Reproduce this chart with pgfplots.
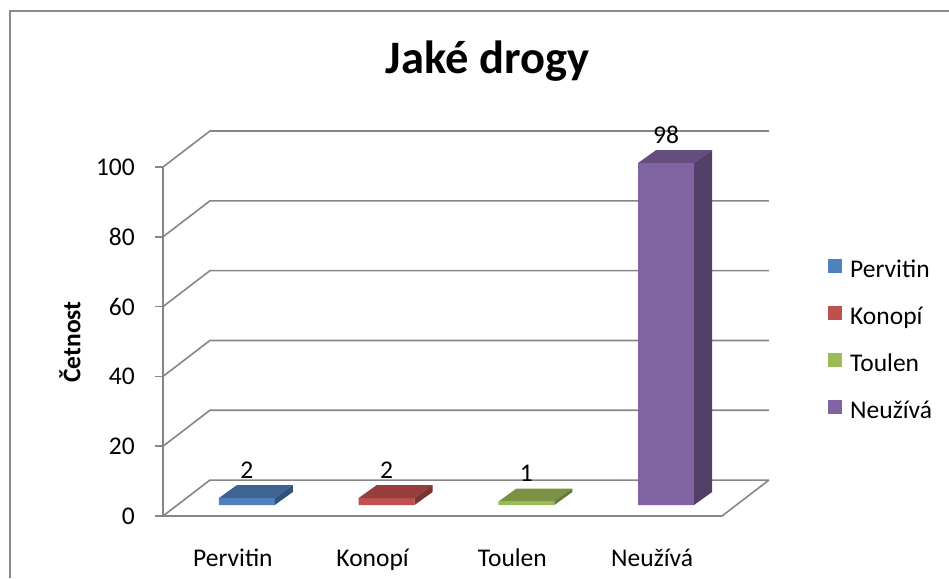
\documentclass[border=0pt]{standalone}
\usepackage{pgfplots}
\pgfplotsset{compat=1.18}
\usepackage{fontspec}
\setmainfont{Carlito}
\definecolor{gridc}{HTML}{868686}
\definecolor{frame}{HTML}{8A8A8A}
\definecolor{bF}{HTML}{4F81BD}\definecolor{bT}{HTML}{3E6493}\definecolor{bS}{HTML}{325279}
\definecolor{rF}{HTML}{C0504D}\definecolor{rT}{HTML}{963E3C}\definecolor{rS}{HTML}{7B3331}
\definecolor{gF}{HTML}{9BBB59}\definecolor{gT}{HTML}{799245}\definecolor{gS}{HTML}{637839}
\definecolor{pF}{HTML}{8064A2}\definecolor{pT}{HTML}{644E7E}\definecolor{pS}{HTML}{524068}
\newcommand\fs{\fontsize{25.5}{30}\selectfont}
\begin{document}
\begin{tikzpicture}[x=1pt,y=1pt]
\useasboundingbox (0,0) rectangle (949,578);
\draw[frame, line width=2pt] (10,0) -- (10,567) -- (949,567);
\node[font=\fontsize{46.5}{52}\selectfont\bfseries, anchor=base] at (487.5,504.7) {Jaké drogy};
\node[font=\fs\bfseries, rotate=90] at (70,236) {Četnost};
\begin{axis}[
  at={(163pt,62pt)}, anchor=south west,
  scale only axis, width=559pt, height=349pt,
  xmin=0, xmax=4, ymin=0, ymax=100,
  clip=false,
  axis y line*=left, axis x line*=bottom,
  axis line style={gridc, line width=1.6pt, -},
  xtick={0.5,1.5,2.5,3.5},
  xticklabels={Pervitin,Konopí,Toulen,Neužívá},
  x tick style={draw=none},
  ytick={0,20,...,100},
  y tick style={gridc, line width=1.6pt},
  tick align=outside,
  major tick length=8pt,
  tick label style={font=\fs},
  /pgf/number format/assume math mode=true,
  xticklabel style={anchor=base, yshift=-42pt},
  yticklabel style={anchor=east, inner sep=0pt, xshift=-20pt},
  legend cell align=left,
  legend image code/.code={\fill (0pt,-2pt) rectangle (14pt,12pt);},
  legend style={at={(1.1896,0.7364)}, anchor=north west, draw=none, fill=none,
    inner sep=0pt, column sep=8pt, row sep=23pt,
    nodes={inner sep=0pt, font=\fs, text height=18pt, text depth=6pt}},
]
% back wall and floor
\addplot[gridc, line width=1.6pt, forget plot] coordinates {(0,0) (0.336,10.3) (4.336,10.3)};
\addplot[gridc, line width=1.6pt, forget plot] coordinates {(4,0) (4.336,10.3)};
\addplot[gridc, line width=1.6pt, forget plot] coordinates {(0,20) (0.336,30.3) (4.336,30.3)};
\addplot[gridc, line width=1.6pt, forget plot] coordinates {(0,40) (0.336,50.3) (4.336,50.3)};
\addplot[gridc, line width=1.6pt, forget plot] coordinates {(0,60) (0.336,70.3) (4.336,70.3)};
\addplot[gridc, line width=1.6pt, forget plot] coordinates {(0,80) (0.336,90.3) (4.336,90.3)};
\addplot[gridc, line width=1.6pt, forget plot] coordinates {(0,100) (0.336,110.3) (4.336,110.3)};
% Pervitin = 2
\addplot[fill=bF, draw=none] coordinates {(0.4,3.15) (0.8,3.15) (0.8,5.15) (0.4,5.15) (0.4,3.15)};
\addlegendentry{Pervitin}
\addplot[fill=bT, draw=none, forget plot] coordinates {(0.4,5.15) (0.8,5.15) (0.929,8.87) (0.529,8.87) (0.4,5.15)};
\addplot[fill=bS, draw=none, forget plot] coordinates {(0.8,3.15) (0.929,6.87) (0.929,8.87) (0.8,5.15) (0.8,3.15)};
% Konopi = 2
\addplot[fill=rF, draw=none] coordinates {(1.4,3.15) (1.8,3.15) (1.8,5.15) (1.4,5.15) (1.4,3.15)};
\addlegendentry{Konopí}
\addplot[fill=rT, draw=none, forget plot] coordinates {(1.4,5.15) (1.8,5.15) (1.929,8.87) (1.529,8.87) (1.4,5.15)};
\addplot[fill=rS, draw=none, forget plot] coordinates {(1.8,3.15) (1.929,6.87) (1.929,8.87) (1.8,5.15) (1.8,3.15)};
% Toulen = 1
\addplot[fill=gF, draw=none] coordinates {(2.4,3.15) (2.8,3.15) (2.8,4.15) (2.4,4.15) (2.4,3.15)};
\addlegendentry{Toulen}
\addplot[fill=gT, draw=none, forget plot] coordinates {(2.4,4.15) (2.8,4.15) (2.929,7.87) (2.529,7.87) (2.4,4.15)};
\addplot[fill=gS, draw=none, forget plot] coordinates {(2.8,3.15) (2.929,6.87) (2.929,7.87) (2.8,4.15) (2.8,3.15)};
% Neuziva = 98
\addplot[fill=pF, draw=none] coordinates {(3.4,3.15) (3.8,3.15) (3.8,101.15) (3.4,101.15) (3.4,3.15)};
\addlegendentry{Neužívá}
\addplot[fill=pT, draw=none, forget plot] coordinates {(3.4,101.15) (3.8,101.15) (3.929,104.87) (3.529,104.87) (3.4,101.15)};
\addplot[fill=pS, draw=none, forget plot] coordinates {(3.8,3.15) (3.929,6.87) (3.929,104.87) (3.8,101.15) (3.8,3.15)};
% data labels
\addplot[draw=none, mark=none, forget plot, nodes near coords, point meta=explicit,
  nodes near coords style={anchor=base, inner sep=0pt, font=\fs}]
  coordinates {(0.6,10.8) [2] (1.6,10.8) [2] (2.6,9.8) [1] (3.6,106.8) [98]};
\end{axis}
\end{tikzpicture}
\end{document}
